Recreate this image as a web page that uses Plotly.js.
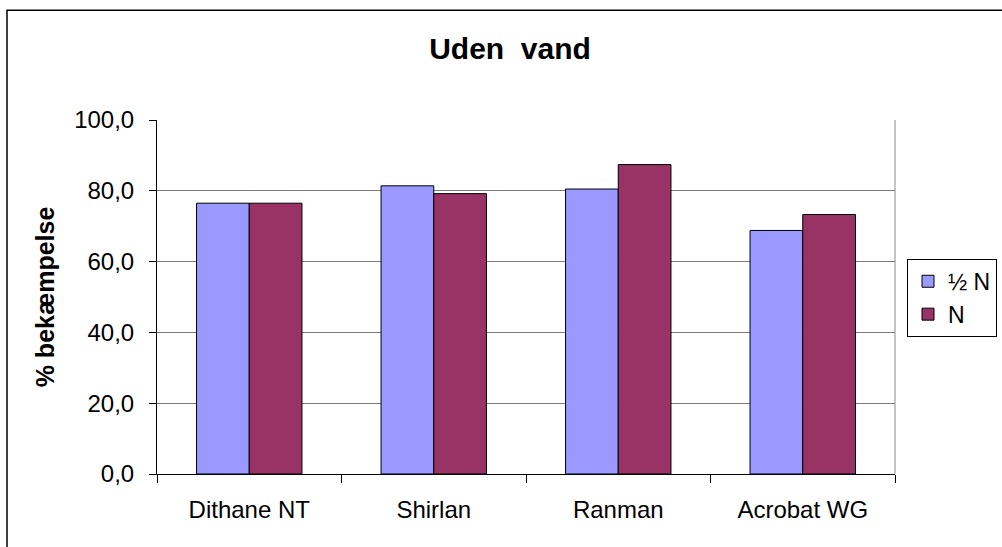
<!DOCTYPE html>
<html>
<head>
<meta charset="utf-8">
<script src="https://cdn.plot.ly/plotly-3.0.1.min.js"></script>
<style>html,body{margin:0;padding:0;background:#fff;}#chart{width:1002px;height:547px;}</style>
</head>
<body>
<div id="chart"></div>
<script>
const categories = ["Dithane NT", "Shirlan", "Ranman", "Acrobat WG"];
const halfN = [76.5, 81.4, 80.5, 68.8];
const fullN = [76.5, 79.2, 87.4, 73.3];
const seriesNames = ["½ N", "N"];
const yTicks = [0, 20, 40, 60, 80, 100];

const font = "Arial, 'Liberation Sans', sans-serif";

const traces = [
  {type: "bar", name: seriesNames[0], x: categories, y: halfN,
   marker: {color: "#9999FF", line: {color: "#000", width: 1}}},
  {type: "bar", name: seriesNames[1], x: categories, y: fullN,
   marker: {color: "#993366", line: {color: "#000", width: 1}}}
];

const L = 157, R = 895, T = 120, B = 474.5, W = 1002, H = 547;
const px = v => (v - L) / (R - L);
const py = v => (B - v) / (B - T);

const layout = {
  width: W, height: H,
  margin: {l: L, r: W - R, t: T, b: H - B, pad: 0, autoexpand: false},
  paper_bgcolor: "#fff", plot_bgcolor: "#fff",
  separators: ",.",
  barmode: "group", bargap: 0.4286, bargroupgap: 0,
  font: {family: font, color: "#000", size: 24},
  title: {text: "<b>Uden  vand</b>", font: {family: font, size: 30, color: "#000"},
          x: px(510), xref: "paper", xanchor: "center", y: 1 - 48 / H, yanchor: "middle"},
  xaxis: {
    showline: true, linecolor: "#000", linewidth: 1,
    ticks: "outside", tickson: "boundaries", ticklen: 8, tickcolor: "#000",
    tickfont: {family: font, size: 24, color: "#000"},
    ticklabelstandoff: 14,
    showgrid: false, zeroline: false
  },
  yaxis: {
    range: [0, 100], tickvals: yTicks, tickformat: ".1f",
    showline: true, linecolor: "#000", linewidth: 1,
    ticks: "outside", ticklen: 7, tickcolor: "#000",
    tickfont: {family: font, size: 24, color: "#000"},
    ticklabelstandoff: 10,
    showgrid: true, gridcolor: "#7a7a7a", gridwidth: 1, zeroline: false,
    title: {text: "<b>% bekæmpelse</b>", font: {family: font, size: 25, color: "#000"}, standoff: 12}
  },
  legend: {
    x: px(907), y: py(259), xanchor: "left", yanchor: "top",
    bordercolor: "#000", borderwidth: 1, bgcolor: "#fff",
    font: {family: font, size: 23, color: "#000"},
    itemwidth: 30, tracegroupgap: 0
  },
  shapes: [
    {type: "rect", xref: "paper", yref: "paper", x0: px(7), x1: px(1010), y0: py(560), y1: py(10),
     line: {color: "#000", width: 1.5}, fillcolor: "rgba(0,0,0,0)", layer: "below"},
    {type: "line", xref: "paper", yref: "paper", x0: 1, x1: 1, y0: 0, y1: 1,
     line: {color: "#8a8a8a", width: 1}, layer: "below"}
  ],
  showlegend: true
};

Plotly.newPlot("chart", traces, layout, {displayModeBar: false, staticPlot: true});
</script>
</body>
</html>
